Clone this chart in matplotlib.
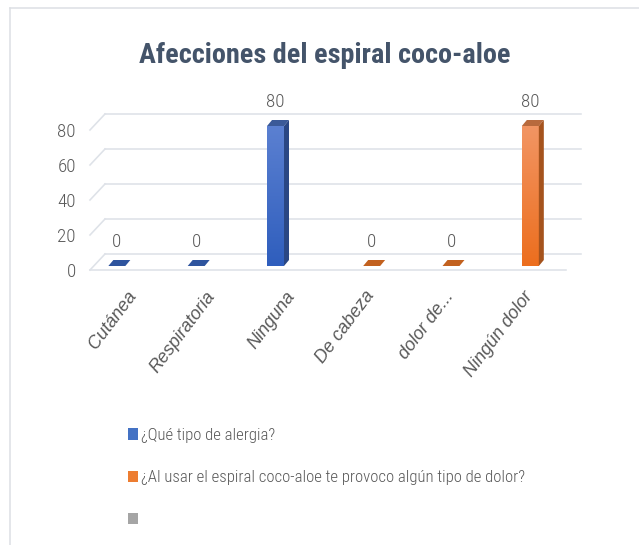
import numpy as np
import matplotlib
matplotlib.use('Agg')
import matplotlib.pyplot as plt
from matplotlib.patches import Polygon
from matplotlib.lines import Line2D
from matplotlib.colors import LinearSegmentedColormap

plt.rcParams['font.family'] = ['Roboto Condensed', 'DejaVu Sans']

# Data
categories = ['Cutánea', 'Respiratoria', 'Ninguna', 'De cabeza', 'dolor de...', 'Ningún dolor']
alergia = [0, 0, 80, np.nan, np.nan, np.nan]
dolor = [np.nan, np.nan, np.nan, 0, 0, 80]
vacio = [np.nan] * 6
series_names = ['¿Qué tipo de alergia?',
                '¿Al usar el espiral coco-aloe te provoco algún tipo de dolor?',
                '']
y_ticks = [0, 20, 40, 60, 80]

# Styles per series: base, front top, front bottom, side, top face, flat (zero) face
styles = [
    dict(base='#4472C4', f_top='#5B80D1', f_bot='#2F5EBD', side='#2A4784', cap='#3B5A98', flat='#2E549E'),
    dict(base='#ED7D31', f_top='#F29563', f_bot='#EC6E1E', side='#A5531D', cap='#B86A3D', flat='#C2611F'),
    dict(base='#A5A5A5', f_top='#B5B5B5', f_bot='#959595', side='#7A7A7A', cap='#8A8A8A', flat='#8A8A8A'),
]
txt_col = '#595959'

W, H = 639, 545
fig = plt.figure(figsize=(W / 72, H / 72), dpi=72)
ax = fig.add_axes([90 / W, 275 / H, 476 / W, 140 / H])
ax.set_xlim(-0.5, 5.5)
ax.set_ylim(0, 80)

# pixel -> data unit factors (dpi 72 so 1pt = 1px)
px_x = 6 / 476
px_y = 80 / 140


def shift(x, y, dx, dy):
    return x + dx * px_x, y + dy * px_y


grid_col = '#DEE2E8'
back = (15, 16)

# 3D walls: back gridlines + left wall diagonals
for v in y_ticks:
    xb0, yb = shift(-0.5, v, *back)
    xb1, _ = shift(5.5, v, *back)
    ax.plot([xb0, xb1], [yb, yb], color=grid_col, lw=1.6, clip_on=False, zorder=1)
    ax.plot([-0.5, xb0], [v, yb], color=grid_col, lw=1.6, clip_on=False, zorder=1)
ax.plot([-0.5, 5.5], [0, 0], color=grid_col, lw=1.6, clip_on=False, zorder=1)

# bars
width = 0.214
slots = [-0.212, 0.0, 0.212]
plane = (4, 4)
depth = (5, 6)
handles = []
for i, vals in enumerate([alergia, dolor, vacio]):
    st = styles[i]
    x = np.arange(len(categories)) + slots[i]
    xb, y0 = shift(x, 0, *plane)
    bars = ax.bar(xb, vals, width, bottom=y0, color=st['base'], zorder=3, clip_on=False)
    handles.append(bars)
    cmap = LinearSegmentedColormap.from_list('g%d' % i, [st['f_bot'], st['f_top']])
    ddx, ddy = depth[0] * px_x, depth[1] * px_y
    for xc, v, rect in zip(xb, vals, bars):
        if np.isnan(v):
            continue
        x0, x1 = xc - width / 2, xc + width / 2
        y1 = y0 + v
        cap = Polygon([(x0, y1), (x1, y1), (x1 + ddx, y1 + ddy), (x0 + ddx, y1 + ddy)],
                      closed=True, color=st['cap'] if v > 0 else st['flat'], zorder=4,
                      clip_on=False, lw=0)
        ax.add_patch(cap)
        if v > 0:
            side = Polygon([(x1, y0), (x1, y1), (x1 + ddx, y1 + ddy), (x1 + ddx, y0 + ddy)],
                           closed=True, color=st['side'], zorder=4, clip_on=False, lw=0)
            ax.add_patch(side)
            grad = np.linspace(0, 1, 100).reshape(-1, 1)
            im = ax.imshow(grad, extent=[x0, x1, y0, y1], origin='lower', aspect='auto',
                           cmap=cmap, zorder=3.5)
            im.set_clip_path(rect)
        ax.text(xc, v + 16, '%d' % v, ha='center', va='center', fontsize=19,
                weight='light', color=txt_col, zorder=5)

ax.set_xlim(-0.5, 5.5)
ax.set_ylim(0, 80)
for s in ax.spines.values():
    s.set_visible(False)
ax.patch.set_visible(False)

ax.set_yticks(y_ticks)
ax.set_yticklabels([str(t) for t in y_ticks], fontsize=19, weight='light', color=txt_col,
                   va='center_baseline')
ax.tick_params(axis='y', length=0, pad=14)

ax.set_xticks(np.arange(len(categories)) + 0.04)
ax.set_xticklabels(categories, fontsize=18, color=txt_col, style='italic',
                   family=['Liberation Sans', 'DejaVu Sans'])
ax.tick_params(axis='x', length=0, pad=23)
plt.setp(ax.get_xticklabels(), rotation=53, ha='right', va='center', rotation_mode='anchor')

fig.text(325 / W, 1 - 55 / H, 'Afecciones del espiral coco-aloe', ha='center', va='center',
         fontsize=28.3, weight='bold', color='#44546A')

fig.legend(handles, series_names, loc='upper left', bbox_to_anchor=(128 / W, 1 - 428 / H),
           frameon=False, handlelength=0.6, handleheight=0.68,
           handletextpad=0.2, labelspacing=1.62, borderpad=0, borderaxespad=0,
           labelcolor=txt_col, prop=dict(weight='light', size=16.8))

# chart area border (left and top)
fig.add_artist(Line2D([10 / W, 10 / W], [0, 1 - 8 / H], transform=fig.transFigure,
                      color='#DCDFE4', lw=1.5))
fig.add_artist(Line2D([10 / W, 1], [1 - 8 / H, 1 - 8 / H], transform=fig.transFigure,
                      color='#DCDFE4', lw=1.5))

fig.savefig('out.png', dpi=72, facecolor='white')
